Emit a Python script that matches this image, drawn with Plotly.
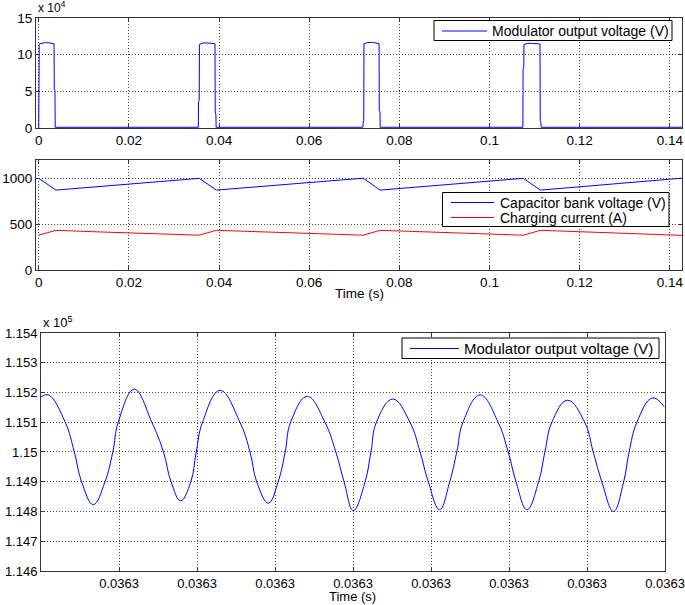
import plotly.graph_objects as go

# Modulatorspannung (x 10^4 V) über der Zeit (s)
pulse_t = [0, 0.0001, 0.0003, 0.0015, 0.0025, 0.0034, 0.00345, 0.0036, 0.00365,
           0.0354, 0.03545, 0.0356, 0.03565, 0.0365, 0.0375, 0.0385, 0.0391, 0.03915, 0.0393, 0.03935,
           0.0719, 0.07195, 0.0721, 0.07215, 0.0730, 0.0740, 0.0750, 0.0755, 0.07555, 0.0757, 0.07575,
           0.1074, 0.10745, 0.1076, 0.10765, 0.1085, 0.1095, 0.1105, 0.1112, 0.11125, 0.1114, 0.11145,
           0.1427]
pulse_v = [0, 11.4, 11.5, 11.65, 11.6, 11.5, 5.2, 5.1, 0.1,
           0.1, 3.6, 3.7, 11.4, 11.6, 11.6, 11.55, 11.5, 2.2, 1.8, 0.1,
           0.1, 0.6, 1.0, 11.5, 11.65, 11.7, 11.6, 11.5, 2.4, 2.2, 0.1,
           0.1, 8.0, 8.3, 11.4, 11.55, 11.55, 11.5, 11.45, 1.0, 0.8, 0.1,
           0.1]

# Kondensatorbankspannung (V)
cap_t = [0, 0.0038, 0.0356, 0.0394, 0.0720, 0.0757, 0.1075, 0.1113, 0.1427]
cap_v = [1000, 872, 1000, 872, 1002, 872, 1000, 872, 1002]

# Ladestrom (A)
cur_t = [0, 0.0038, 0.012, 0.022, 0.032, 0.0356, 0.0394, 0.048, 0.058, 0.068, 0.0720,
         0.0757, 0.084, 0.094, 0.104, 0.1075, 0.1113, 0.120, 0.130, 0.1427]
cur_v = [380, 433, 418, 400, 385, 380, 433, 418, 400, 385, 380,
         433, 418, 400, 385, 380, 433, 418, 400, 378]

# Ausschnitt der Modulatorspannung (x 10^5 V), Zeit in Tick-Abständen
zoom_t = [0.0, 0.094, 0.31, 0.427, 0.52, 0.67, 0.82, 0.92, 0.99,
          1.196, 1.42, 1.57, 1.667, 1.79, 1.92, 1.99, 2.07,
          2.295, 2.55, 2.68, 2.765, 2.915, 3.04, 3.13, 3.20,
          3.414, 3.64, 3.78, 3.885, 4.004, 4.155, 4.23, 4.30,
          4.51, 4.73, 4.86, 4.965, 5.11, 5.24, 5.33, 5.41,
          5.63, 5.86, 5.99, 6.09, 6.23, 6.38, 6.46, 6.55,
          6.75, 6.97, 7.08, 7.19, 7.34, 7.47, 7.54, 7.64,
          7.84, 7.99]
zoom_v = [1.15185, 1.15192, 1.151, 1.150, 1.149, 1.14823, 1.149, 1.150, 1.151,
          1.15211, 1.151, 1.150, 1.149, 1.14836, 1.149, 1.150, 1.151,
          1.15207, 1.151, 1.150, 1.149, 1.14828, 1.149, 1.150, 1.151,
          1.15187, 1.151, 1.150, 1.149, 1.14803, 1.149, 1.150, 1.151,
          1.15178, 1.151, 1.150, 1.149, 1.14806, 1.149, 1.150, 1.151,
          1.15192, 1.151, 1.150, 1.149, 1.14806, 1.149, 1.150, 1.151,
          1.15174, 1.151, 1.150, 1.149, 1.14800, 1.149, 1.150, 1.151,
          1.15182, 1.15152]
zoom_ticks = [1, 2, 3, 4, 5, 6, 7, 8]
zoom_ticktext = ["0.0363"] * 8
zoom_yticks = [1.146, 1.147, 1.148, 1.149, 1.15, 1.151, 1.152, 1.153, 1.154]
zoom_yticktext = ["1.146", "1.147", "1.148", "1.149", "1.15", "1.151", "1.152", "1.153", "1.154"]

BLUE = "#0000ff"
RED = "#ff0000"
FONT = "Liberation Sans, Arial, sans-serif"
W, H = 685, 605

fig = go.Figure()
fig.add_trace(go.Scatter(x=pulse_t, y=pulse_v, mode="lines", name="Modulator output voltage (V)",
                         line=dict(color=BLUE, width=1), xaxis="x", yaxis="y"))
fig.add_trace(go.Scatter(x=cap_t, y=cap_v, mode="lines", name="Capacitor bank voltage (V)",
                         line=dict(color=BLUE, width=1), xaxis="x2", yaxis="y2"))
fig.add_trace(go.Scatter(x=cur_t, y=cur_v, mode="lines", name="Charging current (A)",
                         line=dict(color=RED, width=1), xaxis="x2", yaxis="y2"))
fig.add_trace(go.Scatter(x=zoom_t, y=zoom_v, mode="lines", name="Modulator output voltage (V)",
                         line=dict(color=BLUE, width=1, shape="spline", smoothing=1.2),
                         xaxis="x3", yaxis="y3"))

# MATLAB-artige Legenden (kompakter als die Plotly-Legende), Angaben in Pixeln
shapes = []
annotations = []


def legend_box(x0, y0, x1, y1, entries, line_x0, line_x1, text_x, size):
    shapes.append(dict(type="rect", xref="paper", yref="paper", x0=x0 / W, x1=x1 / W,
                       y0=1 - y0 / H, y1=1 - y1 / H, line=dict(color="black", width=1),
                       fillcolor="white", layer="above"))
    for name, color, yc in entries:
        shapes.append(dict(type="line", xref="paper", yref="paper", x0=line_x0 / W, x1=line_x1 / W,
                           y0=1 - yc / H, y1=1 - yc / H, line=dict(color=color, width=1),
                           layer="above"))
        annotations.append(dict(text=name, xref="paper", yref="paper", x=text_x / W, y=1 - yc / H,
                                xanchor="left", yanchor="middle", showarrow=False,
                                font=dict(size=size)))


def label(text, x, y, size):
    annotations.append(dict(text=text, xref="paper", yref="paper", x=x / W, y=1 - y / H,
                            xanchor="center", yanchor="middle", showarrow=False,
                            font=dict(size=size)))


legend_box(434, 20.5, 672, 40.5, [("Modulator output voltage (V)", BLUE, 31)], 442, 487, 490, 14)
legend_box(442.5, 192.5, 669, 226.5, [("Capacitor bank voltage (V)", BLUE, 202.5),
                                      ("Charging current (A)", RED, 217.5)], 451, 494, 498, 14)
legend_box(402, 338, 659, 358.5, [("Modulator output voltage (V)", BLUE, 348.5)], 410, 459, 462, 15)

# Achsentitel
label("Time (s)", 359, 293, 13.5)
label("Time (s)", 352.5, 596.5, 13)

annotations += [
    dict(text="x 10<sup>4</sup>", xref="paper", yref="paper", x=0.0526, y=0.972,
         xanchor="left", yanchor="bottom", showarrow=False, font=dict(size=12)),
    dict(text="x 10<sup>5</sup>", xref="paper", yref="paper", x=0.0599, y=0.451,
         xanchor="left", yanchor="bottom", showarrow=False, font=dict(size=13)),
]

ax = dict(showline=True, linecolor="#333", linewidth=1, mirror="ticks", ticks="inside",
          ticklen=4, tickcolor="#333", showgrid=True, gridcolor="#404040", griddash="1px,2px",
          gridwidth=1, zeroline=False, automargin=False, tickfont=dict(size=13.5, color="black"))
ax3 = dict(ax, tickfont=dict(size=13, color="black"))

fig.update_layout(
    width=W, height=H, margin=dict(l=0, r=0, t=0, b=0, autoexpand=False),
    paper_bgcolor="white", plot_bgcolor="white", showlegend=False,
    font=dict(family=FONT, color="black", size=13),
    xaxis=dict(ax, domain=[0.0526, 0.9956], range=[-0.0006, 0.1427], dtick=0.02, anchor="y"),
    yaxis=dict(ax, domain=[0.7884, 0.9702], range=[0, 15], dtick=5, anchor="x"),
    xaxis2=dict(ax, domain=[0.0526, 0.9956], range=[-0.0006, 0.1427], dtick=0.02, anchor="y2"),
    yaxis2=dict(ax, domain=[0.5537, 0.7355], range=[0, 1200], dtick=500, anchor="x2"),
    xaxis3=dict(ax3, domain=[0.0599, 0.9708], range=[0, 8], tickvals=zoom_ticks,
                ticktext=zoom_ticktext, anchor="y3", ticklabeloverflow="allow"),
    yaxis3=dict(ax3, domain=[0.0562, 0.4496], range=[1.146, 1.154], tickvals=zoom_yticks,
                ticktext=zoom_yticktext, anchor="x3"),
    shapes=shapes,
    annotations=annotations,
)

# Seitenrand entfernen, damit die Abbildung genau 685x605 belegt
fig.write_html("out.html", config={"displayModeBar": False},
               post_script="document.body.style.margin='0';document.body.style.overflow='hidden';")
